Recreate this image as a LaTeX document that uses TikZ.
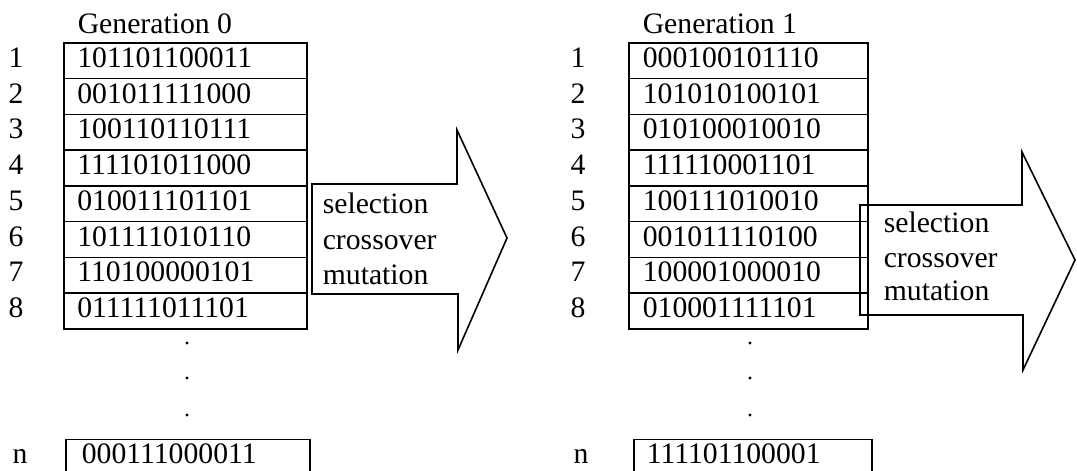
\documentclass[tikz,border=0pt]{standalone}
\usepackage{fontspec}
\setmainfont{Liberation Serif}
\newcommand\gafont{\fontsize{14.85pt}{17.8pt}\selectfont}
\begin{document}
\begin{tikzpicture}[x=0.5pt,y=-0.5pt,line width=0.8pt,font=\gafont,
  cell/.style={draw,rectangle,anchor=north west,minimum height=17.875pt,
    inner ysep=0pt,text height=0.68em,text depth=0pt,align=left},
  cellA/.style={cell,inner xsep=6.75pt,text width=108pt},
  cellB/.style={cell,inner xsep=7pt,text width=105.5pt},
  cellAn/.style={cell,inner xsep=8pt,text width=106pt},
  cellBn/.style={cell,inner xsep=6.5pt,text width=106pt},
  num/.style={anchor=base,inner sep=0pt},
  word/.style={anchor=base west,inner sep=0pt},
  dot/.style={fill=black},
  bigarrow/.style={draw,line join=miter}]
  % canvas
  \path[use as bounding box] (0,0) rectangle (1077,471);
  \clip (0,0) rectangle (1077,471);
  \fill[white] (0,0) rectangle (1077,471);

  % columns for the row numbers
  \coordinate (xa) at (16,0);
  \coordinate (xb) at (578,0);

  % ---------- generation 0 ----------
  \node[word] (g0) at (77,33) {Generation 0};
  \foreach \s [count=\i] in {101101100011,001011111000,100110110111,111101011000,
                             010011101101,101111010110,110100000101,011111011101}{
    \node[cellA] (a\i) at (63,{42+35.75*(\i-1)}) {\s};
    \node[num] (na\i) at (a\i.base -| xa) {\i};
  }
  \fill[dot] (187,343) circle[radius=0.8pt];
  \fill[dot] (187,378) circle[radius=0.8pt];
  \fill[dot] (187,415) circle[radius=0.8pt];
  \node[cellAn] (an) at (65,438.5) {000111000011};
  \node[num] (nan) at (an.base -| 20,0) {n};

  % operator arrow 1
  \draw[bigarrow] (312,184) -- (457,184) -- (457,130) -- (507,238)
    -- (458,350) -- (458,294) -- (312,294) -- cycle;
  \node[word] (s1) at (322,213) {selection};
  \node[word] (c1) at (322,249) {crossover};
  \node[word] (m1) at (322,284) {mutation};

  % ---------- generation 1 ----------
  \node[word] (g1) at (642,33) {Generation 1};
  \foreach \s [count=\i] in {000100101110,101010100101,010100010010,111110001101,
                             100111010010,001011110100,100001000010,010001111101}{
    \node[cellB] (b\i) at (628,{42+35.75*(\i-1)}) {\s};
    \node[num] (nb\i) at (b\i.base -| xb) {\i};
  }
  \fill[dot] (750,343) circle[radius=0.8pt];
  \fill[dot] (750,378) circle[radius=0.8pt];
  \fill[dot] (750,415) circle[radius=0.8pt];
  \node[cellBn] (bn) at (633,438.5) {111101100001};
  \node[num] (nbn) at (bn.base -| 581,0) {n};

  % operator arrow 2
  \draw[bigarrow] (860,205) -- (1022,205) -- (1022,152) -- (1075,260)
    -- (1023,370) -- (1023,315) -- (860,315) -- cycle;
  \node[word] (s2) at (883,232) {selection};
  \node[word] (c2) at (883,267) {crossover};
  \node[word] (m2) at (883,300) {mutation};
\end{tikzpicture}
\end{document}
